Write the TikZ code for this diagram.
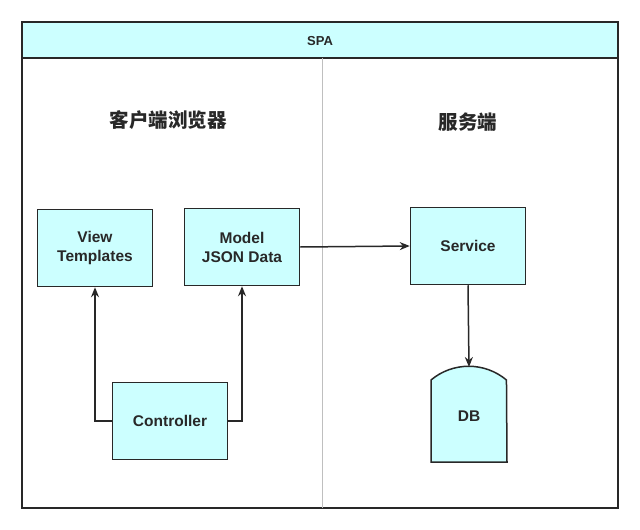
\documentclass[tikz,border=0pt]{standalone}
\usepackage{fontspec}
\setmainfont{Liberation Sans}
\newfontfamily\cjk{Noto Sans CJK SC}
\usetikzlibrary{arrows.meta,positioning}
\definecolor{boxcyan}{RGB}{204,255,255}
\definecolor{linegray}{RGB}{40,40,40}

\begin{document}
\begin{tikzpicture}[x=1pt,y=-1pt,>={Stealth[length=10pt,width=8pt]}, every node/.style={font=\bfseries\fontsize{15.5}{19}\selectfont,text=linegray}]
    \tikzset{block/.style={draw=linegray,fill=boxcyan,line width=1.5pt,minimum width=115pt,minimum height=77pt,align=center}}
    \tikzset{link/.style={draw=linegray,line width=1.5pt,->}}
    \tikzset{title/.style={font=\cjk\bfseries\fontsize{19.5}{22}\selectfont}}
    \useasboundingbox (0,0) rectangle (640,530);

    % Frame
    \draw[linegray,line width=1.5pt,fill=white] (22,22) rectangle (618,508);
    \draw[linegray,line width=1.5pt,fill=boxcyan] (22,22) rectangle (618,58);
    \node[font=\bfseries\fontsize{13}{15}\selectfont] (spa) at (320,41) {SPA};
    \draw[gray!50,line width=1pt] (322,58) -- (322,508);

    % Titles
    \node[title] (client) at (168,120) {客户端浏览器};
    \node[title] (server) at (468,122) {服务端};

    % Client
    \node[block] (view) at (95,248) {View\\Templates};
    \node[block] (model) at (242,247) {Model\\JSON Data};
    \node[block] (ctrl) at (170,421) {Controller};

    % Server
    \node[block] (svc) at (468,246) {Service};
    \draw[linegray,line width=1.5pt,fill=boxcyan] (431,462) -- (431,380) arc[start angle=-130,end angle=-50,radius=58.7] -- (507,462) -- cycle;
    \node (db) at (469,416) {DB};
    \coordinate (dbtop) at (469,367);

    % Links
    \draw[link] (ctrl.west) -| (view.south);
    \draw[link] (ctrl.east) -| (model.south);
    \draw[link] (model.east) -- (svc.west);
    \draw[link] (svc.south) -- (dbtop);
\end{tikzpicture}
\end{document}
